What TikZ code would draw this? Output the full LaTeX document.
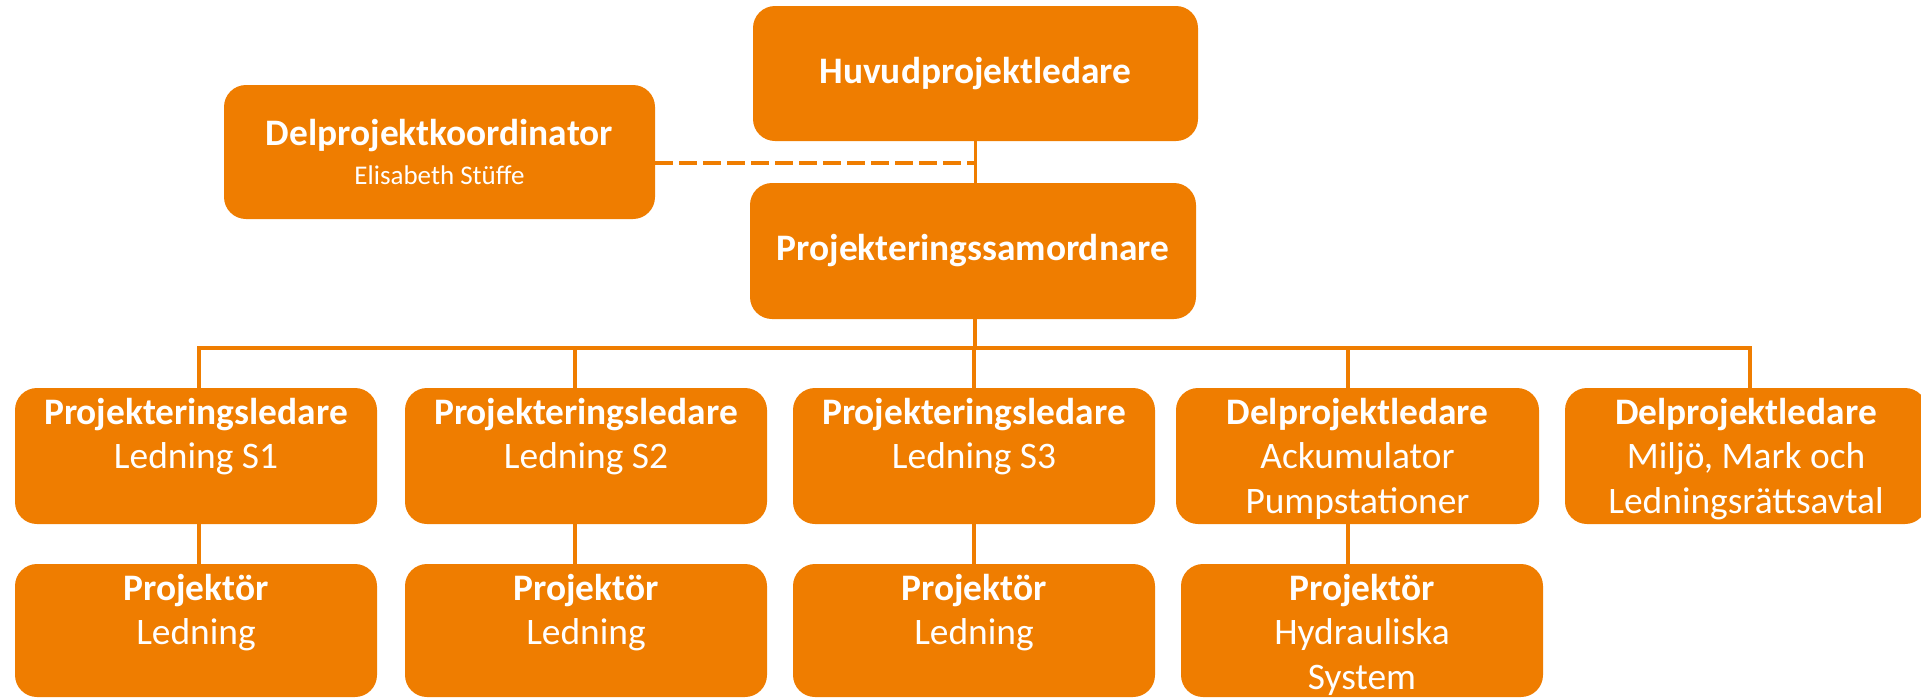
\documentclass[tikz,border=0pt]{standalone}
\usepackage{fontspec}
\setmainfont{Carlito}

\definecolor{orgorange}{RGB}{239,125,0}

\newcommand{\boxtext}[3]{\begin{minipage}[c][#2][t]{#1}\centering\rule{0pt}{18pt}#3\end{minipage}}

\begin{document}
\begin{tikzpicture}[x=0.5pt,y=-0.5pt,
		orgbox/.style={fill=orgorange, text=white, rounded corners=11pt, inner sep=0pt, font=\fontsize{18.7}{22.3}\selectfont},
		orgline/.style={draw=orgorange, line width=1.6pt},
		dashline/.style={draw=orgorange, line width=2pt, dash pattern=on 9pt off 3pt}]
		\useasboundingbox (0,0) rectangle (1921,698);

		% top of the chart
		\node[orgbox, minimum width=222.5pt, minimum height=67.5pt] (huvud) at (975.5,73.5) {\textbf{Huvudprojektledare}};
		\node[orgbox, minimum width=223pt, minimum height=68pt] (samord) at (973,251) {\textbf{Projekteringssamordnare}};
		\node[orgbox, minimum width=215.5pt, minimum height=67pt, align=center] (koord) at (439.5,152)
			{\textbf{Delprojektkoordinator}\\[-3pt]{\fontsize{13.5}{16}\selectfont Elisabeth Stüffe}};

		\draw[orgline] (huvud.south) -- (huvud.south |- samord.north);
		\draw[dashline] ([yshift=-5.5pt]koord.east) -- ([yshift=-5.5pt]koord.east -| huvud.south);
		\coordinate (bus) at (975,348);
		\draw[orgline] (samord.south -| bus) -- (bus);

		% second row
		\node[orgbox] (s1) at (196,456) {\boxtext{181pt}{68pt}{\textbf{Projekteringsledare}\\Ledning S1}};
		\node[orgbox] (s2) at (586,456) {\boxtext{181pt}{68pt}{\textbf{Projekteringsledare}\\Ledning S2}};
		\node[orgbox] (s3) at (974,456) {\boxtext{181pt}{68pt}{\textbf{Projekteringsledare}\\Ledning S3}};
		\node[orgbox] (ack) at (1357.5,456) {\boxtext{181.5pt}{68pt}{\textbf{Delprojektledare}\\Ackumulator\\Pumpstationer}};
		\node[orgbox] (milj) at (1746,456) {\boxtext{181pt}{68pt}{\textbf{Delprojektledare}\\Miljö, Mark och\\Ledningsrättsavtal}};

		\draw[orgline] (bus) -| ([xshift=1.5pt]s1.north);
		\draw[orgline] (bus) -| ([xshift=-5.5pt]s2.north);
		\draw[orgline] (bus) -| (s3.north);
		\draw[orgline] (bus) -| ([xshift=-4.75pt]ack.north);
		\draw[orgline] (bus) -| ([xshift=2pt]milj.north);

		% third row
		\node[orgbox] (p1) at (196,630.5) {\boxtext{181pt}{66.5pt}{\textbf{Projektör}\\Ledning}};
		\node[orgbox] (p2) at (586,630.5) {\boxtext{181pt}{66.5pt}{\textbf{Projektör}\\Ledning}};
		\node[orgbox] (p3) at (974,630.5) {\boxtext{181pt}{66.5pt}{\textbf{Projektör}\\Ledning}};
		\node[orgbox] (p4) at (1362,630.5) {\boxtext{181pt}{66.5pt}{\textbf{Projektör}\\Hydrauliska\\System}};

		\draw[orgline] ([xshift=1.5pt]s1.south) -- ([xshift=1.5pt]p1.north);
		\draw[orgline] ([xshift=-5.5pt]s2.south) -- ([xshift=-5.5pt]p2.north);
		\draw[orgline] (s3.south) -- (p3.north);
		\draw[orgline] ([xshift=-4.75pt]ack.south) -- ([xshift=-4.75pt]ack.south |- p4.north);
\end{tikzpicture}
\end{document}
